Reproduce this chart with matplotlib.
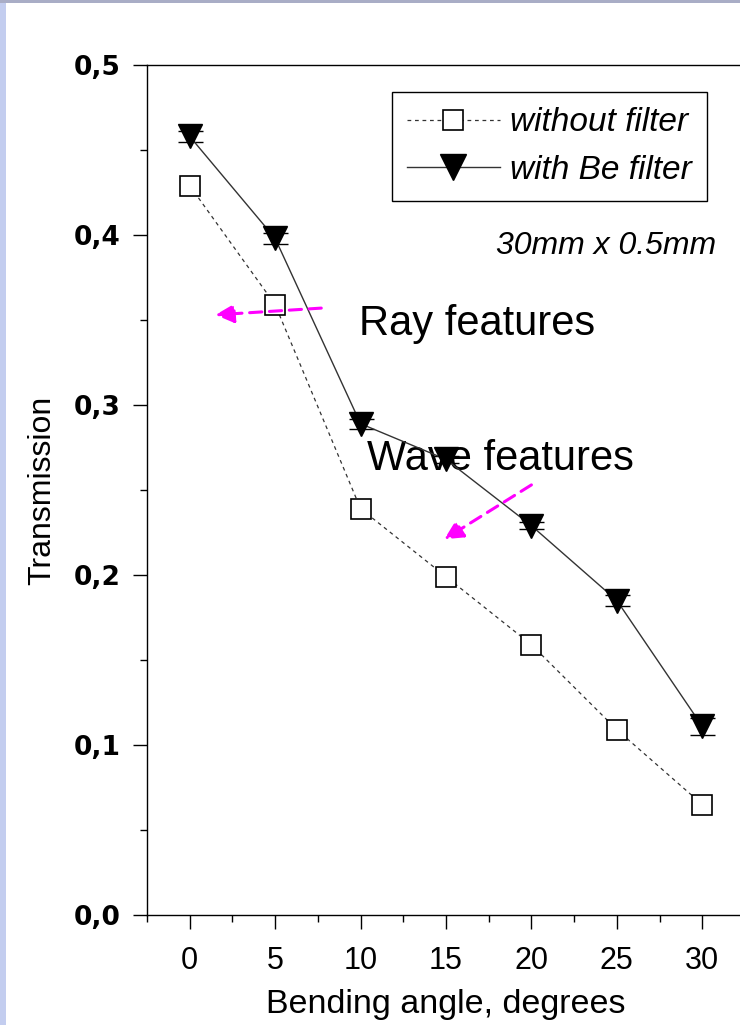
import matplotlib
matplotlib.use("Agg")
import matplotlib.pyplot as plt
from matplotlib.patches import Rectangle
from matplotlib.lines import Line2D

# bending angle, degrees
angles = [0, 5, 10, 15, 20, 25, 30]
# transmission without filter / with Be filter
no_filter = [0.429, 0.359, 0.239, 0.199, 0.159, 0.109, 0.065]
no_filter_err = [0.004, 0.004, 0.004, 0.003, 0.003, 0.003, 0.002]
be_filter = [0.458, 0.398, 0.289, 0.268, 0.229, 0.185, 0.111]
be_filter_err = [0.003, 0.003, 0.003, 0.002, 0.002, 0.003, 0.005]

x_ticks = [0, 5, 10, 15, 20, 25, 30]
y_ticks = [0.0, 0.1, 0.2, 0.3, 0.4, 0.5]
y_labels = ["0,0", "0,1", "0,2", "0,3", "0,4", "0,5"]

W, H = 740, 1025
fig = plt.figure(figsize=(W / 100, H / 100), dpi=100)
fig.patch.set_facecolor("white")

# slide border strips
fig.add_artist(Rectangle((0, 0), 6 / W, 1, transform=fig.transFigure,
                         facecolor="#c3cdef", edgecolor="none"))
fig.add_artist(Rectangle((0, 1 - 3 / H), 1, 3 / H, transform=fig.transFigure,
                         facecolor="#a9adc6", edgecolor="none"))

ax = fig.add_axes([147 / W, 110 / H, 598 / W, 850 / H])

sq_style = dict(color="#333333", linestyle=(0, (3, 3)), linewidth=0.9,
                marker="s", markersize=14, markerfacecolor="white",
                markeredgecolor="black", markeredgewidth=1.2)
tri_style = dict(color="#333333", linestyle="-", linewidth=1.0, marker="v",
                 markersize=17, markerfacecolor="black", markeredgecolor="black")

ax.errorbar(angles, no_filter, yerr=no_filter_err, ecolor="#555555",
            elinewidth=1.0, capsize=6, capthick=1.0, zorder=4, **sq_style)
ax.errorbar(angles, be_filter, yerr=be_filter_err, ecolor="black",
            elinewidth=1.0, capsize=9, capthick=1.0, zorder=4, **tri_style)

ax.set_xlim(-2.5, 32.5)
ax.set_ylim(0, 0.5)
ax.set_xticks(x_ticks)
ax.set_xticks([-2.5, 2.5, 7.5, 12.5, 17.5, 22.5, 27.5, 32.5], minor=True)
ax.set_yticks(y_ticks)
ax.set_yticklabels(y_labels)
ax.set_yticks([0.05, 0.15, 0.25, 0.35, 0.45], minor=True)

ax.spines["right"].set_visible(False)
for s in ["left", "bottom", "top"]:
    ax.spines[s].set_linewidth(1.0)

ax.tick_params(axis="x", which="major", direction="out", length=10, width=1,
               labelsize=22, pad=12)
ax.tick_params(axis="y", which="major", direction="out", length=10, width=1,
               labelsize=19, pad=9)
ax.tick_params(which="minor", direction="out", length=5, width=1)
for lab in ax.get_yticklabels():
    lab.set_fontweight("bold")
    lab.set_family("DejaVu Sans")
for lab in ax.get_xticklabels():
    lab.set_family("Liberation Sans")

ax.set_xlabel("Bending angle, degrees", fontsize=24.5, family="Liberation Sans",
              labelpad=10)
ax.set_ylabel("Transmission", fontsize=23, family="Liberation Sans",
              labelpad=12)

handles = [Line2D([], [], **sq_style), Line2D([], [], **tri_style)]
handles[0].set_markersize(15)
handles[1].set_markersize(19)
leg = ax.legend(handles, ["without filter", "with Be filter"],
                loc="upper right", bbox_to_anchor=(0.936, 0.968),
                prop={"family": "Liberation Sans", "style": "italic", "size": 24},
                handlelength=2.8, handletextpad=0.3, borderpad=0.45,
                labelspacing=0.5, borderaxespad=0, fancybox=False,
                framealpha=1)
leg.get_frame().set_edgecolor("black")
leg.get_frame().set_linewidth(1.0)

ax.text(30.8, 0.389, "30mm x 0.5mm", fontsize=23, style="italic",
        family="Liberation Sans", ha="right", va="baseline")
ax.text(9.9, 0.341, "Ray features", fontsize=30, family="Liberation Sans",
        va="baseline", zorder=2)
ax.text(10.4, 0.262, "Wave features", fontsize=30, family="Liberation Sans",
        va="baseline", zorder=2)

arrow_kw = dict(arrowstyle="-|>", color="#ff00ff", linestyle=(0, (4, 2.5)),
                linewidth=2.2, mutation_scale=28, shrinkA=0, shrinkB=0)
ax.annotate("", xy=(1.5, 0.353), xytext=(7.7, 0.357), arrowprops=arrow_kw,
            zorder=5)
ax.annotate("", xy=(14.9, 0.221), xytext=(20.0, 0.253), arrowprops=arrow_kw,
            zorder=5)

fig.savefig("out.png", dpi=100, facecolor=fig.get_facecolor())
